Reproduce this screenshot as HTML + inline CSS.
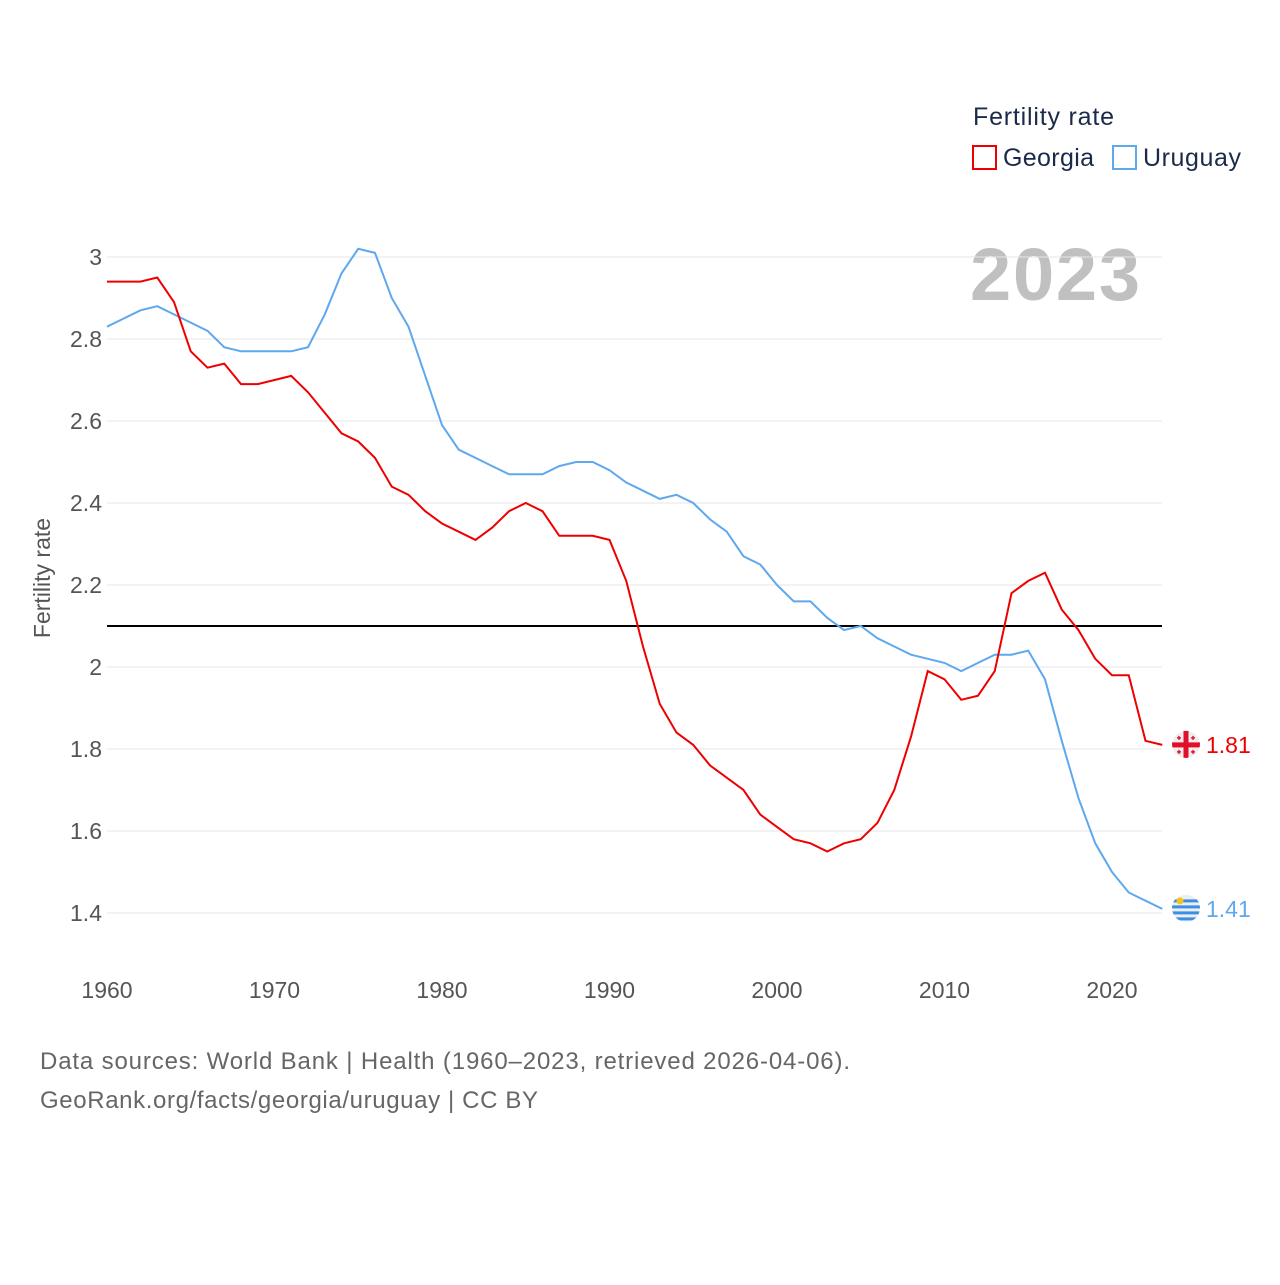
<!DOCTYPE html>
<html><head><meta charset="utf-8"><style>
body{margin:0;background:#fff;width:1280px;height:1280px;overflow:hidden;font-family:"Liberation Sans",sans-serif}
</style></head><body>
<svg id="chart" width="1280" height="1280" xmlns="http://www.w3.org/2000/svg" font-family="Liberation Sans, sans-serif">
<defs><clipPath id="cg"><circle cx="1186" cy="744" r="14"/></clipPath><clipPath id="cu"><circle cx="1186" cy="908" r="14"/></clipPath></defs>
<text x="973" y="125" font-size="25" fill="#1a2a4a" textLength="141">Fertility rate</text>
<g><rect x="973" y="146" width="23" height="23" fill="none" stroke="#ee0000" stroke-width="2"/><text x="1003" y="166" font-size="25" fill="#1a2a4a" textLength="91">Georgia</text></g>
<g><rect x="1113" y="146" width="23" height="23" fill="none" stroke="#5ea8ee" stroke-width="2"/><text x="1143" y="166" font-size="25" fill="#1a2a4a" textLength="98">Uruguay</text></g>
<text x="1140" y="300" font-size="74" font-weight="bold" fill="#c0c0c0" text-anchor="end" textLength="170">2023</text>
<text transform="translate(50,578) rotate(-90)" font-size="23" fill="#555" text-anchor="middle">Fertility rate</text>
<g id="grid"></g><g id="xt"></g><g id="lines"></g>
<text x="40" y="1069" font-size="24" fill="#666" textLength="810">Data sources: World Bank | Health (1960–2023, retrieved 2026-04-06).</text>
<text x="40" y="1108" font-size="24" fill="#666" textLength="498">GeoRank.org/facts/georgia/uruguay | CC BY</text>
</svg>
<script>
const years=[];for(let y=1960;y<=2023;y++)years.push(y);
const georgia=[2.94,2.94,2.94,2.95,2.89,2.77,2.73,2.74,2.69,2.69,2.70,2.71,2.67,2.62,2.57,2.55,2.51,2.44,2.42,2.38,2.35,2.33,2.31,2.34,2.38,2.40,2.38,2.32,2.32,2.32,2.31,2.21,2.05,1.91,1.84,1.81,1.76,1.73,1.70,1.64,1.61,1.58,1.57,1.55,1.57,1.58,1.62,1.70,1.83,1.99,1.97,1.92,1.93,1.99,2.18,2.21,2.23,2.14,2.09,2.02,1.98,1.98,1.82,1.81];
const uruguay=[2.83,2.85,2.87,2.88,2.86,2.84,2.82,2.78,2.77,2.77,2.77,2.77,2.78,2.86,2.96,3.02,3.01,2.90,2.83,2.71,2.59,2.53,2.51,2.49,2.47,2.47,2.47,2.49,2.50,2.50,2.48,2.45,2.43,2.41,2.42,2.40,2.36,2.33,2.27,2.25,2.20,2.16,2.16,2.12,2.09,2.10,2.07,2.05,2.03,2.02,2.01,1.99,2.01,2.03,2.03,2.04,1.97,1.82,1.68,1.57,1.50,1.45,1.43,1.41];
const yTicks=[1.4,1.6,1.8,2,2.2,2.4,2.6,2.8,3];
const xTicks=[1960,1970,1980,1990,2000,2010,2020];
const refValue=2.1;
const X=y=>107+(y-1960)*1005/60, Y=v=>667-(v-2)*410;
const NS="http://www.w3.org/2000/svg";
function mk(t,a,p){const e=document.createElementNS(NS,t);for(const k in a)e.setAttribute(k,a[k]);p.appendChild(e);return e;}
const grid=document.getElementById('grid'),xt=document.getElementById('xt'),L=document.getElementById('lines');
yTicks.forEach(v=>{
 const l=mk('line',{x1:107,x2:1162,y1:Y(v),y2:Y(v),stroke:'#e6e6e6','stroke-width':1},grid);
 
 
 const t=mk('text',{x:102,y:Y(v)+8,'font-size':23,fill:'#555','text-anchor':'end'},grid);t.textContent=String(v);
 
 
});
xTicks.forEach(v=>{
 const t=mk('text',{x:X(v),y:998,'font-size':23,fill:'#555','text-anchor':'middle'},xt);t.textContent=v;
 
 
});
const ref=mk('line',{x1:107,x2:1162,y1:Y(refValue),y2:Y(refValue),stroke:'#000','stroke-width':2},L);


function series(d,c,n){
 const p=mk('polyline',{points:d.map((v,i)=>X(years[i])+','+Y(v)).join(' '),fill:'none',stroke:c,'stroke-width':2},L);
 
 
 const last=d[d.length-1],ly=Y(last);
 const g=mk('g',{'clip-path':n==='georgia'?'url(#cg)':'url(#cu)'},L);
 
 
 mk('circle',{cx:1186,cy:ly,r:14,fill:'#eee'},g);
 if(n==='georgia'){mk('rect',{x:1172,y:ly-2.5,width:28,height:5,fill:'#e0102a'},g);mk('rect',{x:1183.5,y:ly-14,width:5,height:28,fill:'#e0102a'},g);
  [[-7,-7],[7,-7],[-7,7],[7,7]].forEach(o=>{mk('rect',{x:1186+o[0]-2,y:ly+o[1]-0.7,width:4,height:1.4,fill:'#e0102a'},g);mk('rect',{x:1186+o[0]-0.7,y:ly+o[1]-2,width:1.4,height:4,fill:'#e0102a'},g);});}
 else{[-8,-2,4,10].forEach(o=>mk('rect',{x:1172,y:ly+o-1.5,width:28,height:3,fill:'#3a8ee6'},g));mk('circle',{cx:1180,cy:ly-8,r:3.5,fill:'#f5c518'},g);}
 const t=mk('text',{x:1206,y:ly+8,'font-size':23,fill:c},L);t.textContent=last.toFixed(2);
 
 
}
series(uruguay,'#5ea8ee','uruguay');
series(georgia,'#ee0000','georgia');
</script>
</body></html>
